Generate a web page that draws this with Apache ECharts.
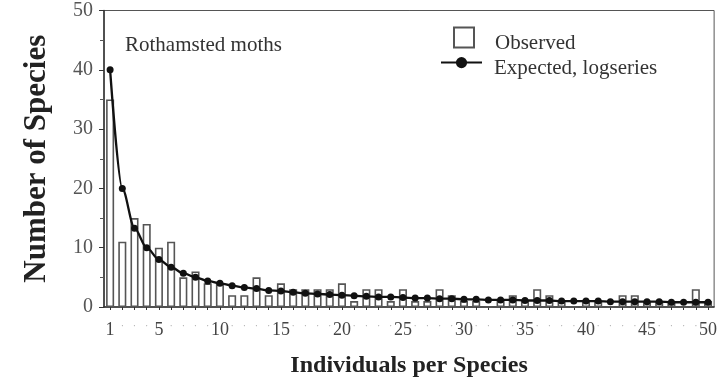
<!DOCTYPE html>
<html>
<head>
<meta charset="utf-8">
<script src="https://cdn.jsdelivr.net/npm/echarts@6/dist/echarts.min.js"></script>
<style>
  html, body { margin: 0; padding: 0; background: #fff; }
  #chart { width: 720px; height: 383px; }
</style>
</head>
<body>
<div id="chart"></div>
<script>
// Species abundance: individuals per species (1..50)
const individuals = [
  1, 2, 3, 4, 5, 6, 7, 8, 9, 10,
  11, 12, 13, 14, 15, 16, 17, 18, 19, 20,
  21, 22, 23, 24, 25, 26, 27, 28, 29, 30,
  31, 32, 33, 34, 35, 36, 37, 38, 39, 40,
  41, 42, 43, 44, 45, 46, 47, 48, 49, 50
];

// Observed number of species in each abundance class
const observed = [
  35, 11, 15, 14, 10, 11, 5, 6, 4, 4,
  2, 2, 5, 2, 4, 3, 3, 3, 3, 4,
  1, 3, 3, 1, 3, 1, 1, 3, 2, 1,
  1, 0, 1, 2, 1, 3, 2, 1, 0, 1,
  1, 0, 2, 2, 1, 1, 1, 0, 3, 1
];

// Expected number of species under the fitted log-series
const expected = [
  40, 20, 13.3, 10, 8, 6.7, 5.7, 5, 4.4, 4,
  3.6, 3.3, 3.1, 2.8, 2.7, 2.5, 2.3, 2.2, 2.1, 2,
  1.9, 1.8, 1.7, 1.7, 1.6, 1.5, 1.5, 1.4, 1.4, 1.3,
  1.3, 1.2, 1.2, 1.2, 1.1, 1.1, 1.1, 1.0, 1.0, 1.0,
  1.0, 0.9, 0.9, 0.9, 0.9, 0.9, 0.8, 0.8, 0.8, 0.8
];

const yTicks = [0, 10, 20, 30, 40, 50];

const serif = '"Liberation Serif", "DejaVu Serif", serif';

const chart = echarts.init(document.getElementById('chart'), null, { renderer: 'canvas' });

chart.setOption({
  animation: false,
  backgroundColor: '#fff',
  textStyle: { fontFamily: serif },
  grid: {
    left: 104, right: 4, top: 10.5, bottom: 73,
    show: true, borderColor: '#555', borderWidth: 1
  },
  title: {
    text: 'Rothamsted moths',
    left: 125, top: 35, padding: 0,
    textStyle: { fontFamily: serif, fontSize: 21, fontWeight: 'normal', color: '#333' }
  },
  legend: [
    {
      data: [{ name: 'Observed', icon: 'rect' }],
      left: 453, top: 26.5, padding: 0,
      itemWidth: 20, itemHeight: 20,
      formatter: '{t|{name}}',
      textStyle: {
        rich: { t: { fontFamily: serif, fontSize: 21, color: '#333', padding: [11, 0, 0, 16] } }
      }
    },
    {
      data: ['Expected, logseries'],
      left: 440, top: 57, padding: 0,
      itemWidth: 41, itemHeight: 14,
      formatter: '{t|{name}}',
      textStyle: {
        rich: { t: { fontFamily: serif, fontSize: 21, color: '#333', padding: [11, 0, 0, 7] } }
      }
    }
  ],
  xAxis: {
    type: 'category',
    data: individuals,
    boundaryGap: true,
    name: 'Individuals per Species',
    nameLocation: 'middle',
    nameGap: 47,
    nameTextStyle: { fontFamily: serif, fontSize: 24, fontWeight: 'bold', color: '#222' },
    axisLine: { lineStyle: { color: '#333', width: 1.5 } },
    axisTick: { show: true, interval: 0, alignWithLabel: true, length: 3, lineStyle: { color: '#333' } },
    axisLabel: {
      interval: 0,
      margin: 14,
      color: '#444',
      fontFamily: serif,
      fontSize: 18,
      formatter: function (v) {
        const n = Number(v);
        return (n === 1 || n % 5 === 0) ? String(n) : '{d|·}';
      },
      rich: { d: { color: '#aaa', fontSize: 10, fontFamily: serif } }
    },
    splitLine: { show: false }
  },
  yAxis: {
    type: 'value',
    min: yTicks[0], max: yTicks[yTicks.length - 1], interval: 10,
    name: 'Number of Species',
    nameLocation: 'middle',
    nameGap: 52,
    nameTextStyle: { fontFamily: serif, fontSize: 31, fontWeight: 'bold', color: '#222' },
    axisLine: { show: true, lineStyle: { color: '#333', width: 1.5 } },
    axisTick: { show: true, length: 5, lineStyle: { color: '#333' } },
    minorTick: { show: true, splitNumber: 2, length: 4, lineStyle: { color: '#555' } },
    axisLabel: { color: '#555', fontFamily: serif, fontSize: 20, margin: 11 },
    splitLine: { show: false }
  },
  series: [
    {
      name: 'Observed',
      type: 'bar',
      data: observed,
      barWidth: '66%',
      itemStyle: { color: '#fff', borderColor: '#555', borderWidth: 1.6 },
      z: 2
    },
    {
      name: 'Expected, logseries',
      type: 'line',
      data: expected,
      smooth: 0.3,
      smoothMonotone: 'x',
      symbol: 'circle',
      symbolSize: 7,
      lineStyle: { color: '#111', width: 2.3 },
      itemStyle: { color: '#111' },
      z: 3
    }
  ]
});
</script>
</body>
</html>
